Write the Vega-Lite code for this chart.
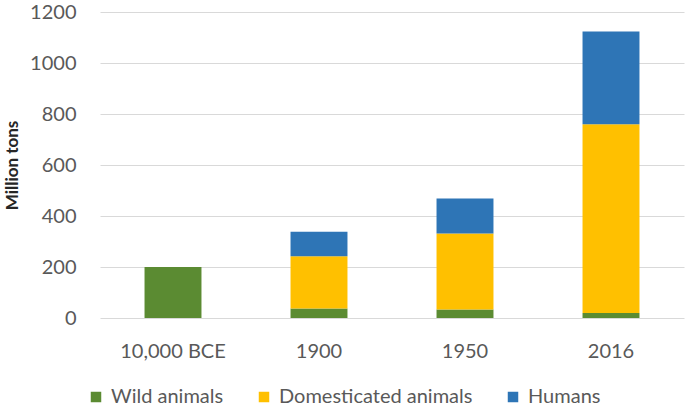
{
  "$schema": "https://vega.github.io/schema/vega-lite/v6.json",
  "autosize": "none",
  "width": 584,
  "height": 306,
  "padding": {"left": 100, "top": 12, "right": 5, "bottom": 89},
  "background": "white",
  "data": {
    "values": [
      {"period": "10,000 BCE", "category": "Wild animals", "value": 200},
      {"period": "1900", "category": "Wild animals", "value": 37},
      {"period": "1900", "category": "Domesticated animals", "value": 205},
      {"period": "1900", "category": "Humans", "value": 96},
      {"period": "1950", "category": "Wild animals", "value": 33},
      {"period": "1950", "category": "Domesticated animals", "value": 298},
      {"period": "1950", "category": "Humans", "value": 138},
      {"period": "2016", "category": "Wild animals", "value": 20},
      {"period": "2016", "category": "Domesticated animals", "value": 740},
      {"period": "2016", "category": "Humans", "value": 364}
    ]
  },
  "transform": [
    {"calculate": "indexof(['Wild animals', 'Domesticated animals', 'Humans'], datum.category)", "as": "stackOrder"}
  ],
  "mark": {"type": "bar"},
  "encoding": {
    "x": {
      "field": "period",
      "type": "nominal",
      "sort": ["10,000 BCE", "1900", "1950", "2016"],
      "scale": {"paddingInner": 0.61, "paddingOuter": 0.305},
      "axis": {
        "title": null,
        "labelAngle": 0,
        "domain": false,
        "ticks": false,
        "labelPadding": 23,
        "labelFont": "Lato",
        "labelFontSize": 20,
        "labelColor": "#595959"
      }
    },
    "y": {
      "field": "value",
      "type": "quantitative",
      "aggregate": "sum",
      "stack": "zero",
      "scale": {"domain": [0, 1200], "nice": false},
      "axis": {
        "title": "Million tons",
        "format": "d",
        "values": [0, 200, 400, 600, 800, 1000, 1200],
        "domain": false,
        "ticks": false,
        "labelPadding": 24,
        "labelFont": "Lato",
        "labelFontSize": 20,
        "labelColor": "#595959",
        "gridColor": "#d9d9d9",
        "gridWidth": 1,
        "titleFont": "Lato",
        "titleFontSize": 17,
        "titleFontWeight": "bold",
        "titleColor": "#262626",
        "titleAngle": -90,
        "titleX": -88,
        "titleY": 153,
        "titleAlign": "center",
        "titleBaseline": "middle"
      }
    },
    "color": {
      "field": "category",
      "type": "nominal",
      "sort": ["Wild animals", "Domesticated animals", "Humans"],
      "scale": {
        "domain": ["Wild animals", "Domesticated animals", "Humans"],
        "range": ["#5B8B32", "#FFC000", "#2E75B6"]
      },
      "legend": {
        "title": null,
        "orient": "none",
        "direction": "horizontal",
        "legendX": -14,
        "legendY": 375,
        "symbolType": "square",
        "symbolSize": 110,
        "symbolStrokeWidth": 0,
        "labelOffset": 5,
        "labelLimit": 0,
        "columnPadding": 30,
        "labelFont": "Lato",
        "labelFontSize": 20,
        "labelColor": "#595959"
      }
    },
    "order": {"field": "stackOrder", "type": "quantitative", "sort": "ascending"}
  },
  "config": {
    "view": {"stroke": null}
  }
}
